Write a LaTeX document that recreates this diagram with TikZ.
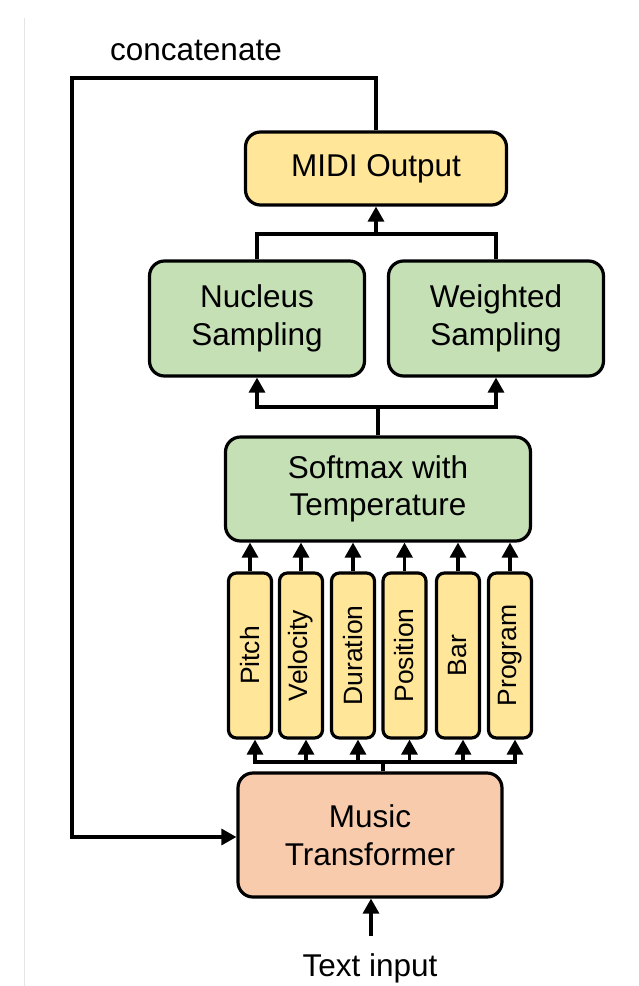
\documentclass[tikz,border=0pt]{standalone}
\usepackage{fontspec}
\setmainfont{Liberation Sans}
\usetikzlibrary{arrows.meta}
\definecolor{yel}{HTML}{FFE699}
\definecolor{grn}{HTML}{C5E0B4}
\definecolor{org}{HTML}{F8CBAD}
\tikzset{
  bigbox/.style={draw=black, line width=3.2pt, rounded corners=15pt, inner sep=0pt, align=center,
    font=\fontsize{31.5}{37.5}\selectfont},
  smallbox/.style={draw=black, line width=3.2pt, rounded corners=8pt, inner sep=0pt, fill=yel,
    minimum width=43pt, minimum height=165pt, font=\fontsize{26.5}{30}\selectfont},
  conn/.style={line width=3.2pt},
  arr/.style={line width=3.2pt, -{Triangle[width=16pt,length=15pt]}},
  lbl/.style={inner sep=0pt, font=\fontsize{31.5}{37}\selectfont}
}
\begin{document}
\begin{tikzpicture}[x=1pt,y=-1pt]
\useasboundingbox (0,0) rectangle (638,986);
\fill[white] (0,0) rectangle (638,986);
\draw[black!10, line width=1pt] (24,18) -- (24,986);

% nodes
\node[bigbox, fill=yel, minimum width=261pt, minimum height=73pt] (midi) at (376,168.5) {MIDI Output};
\node[bigbox, fill=grn, minimum width=215pt, minimum height=115pt] (nuc) at (257,318.5) {Nucleus\\Sampling};
\node[bigbox, fill=grn, minimum width=215pt, minimum height=115pt] (wei) at (496,318.5) {Weighted\\Sampling};
\node[bigbox, fill=grn, minimum width=305pt, minimum height=104pt] (soft) at (378,489) {Softmax with\\Temperature};
\node[smallbox] (p1) at (250,655.5) {\rotatebox{90}{Pitch}};
\node[smallbox] (p2) at (301,655.5) {\rotatebox{90}{Velocity}};
\node[smallbox] (p3) at (353,655.5) {\rotatebox{90}{Duration}};
\node[smallbox] (p4) at (404.5,655.5) {\rotatebox{90}{Position}};
\node[smallbox] (p5) at (458,655.5) {\rotatebox{90}{Bar}};
\node[smallbox] (p6) at (510,655.5) {\rotatebox{90}{Program}};
\node[bigbox, fill=org, minimum width=264pt, minimum height=124pt] (mt) at (370,835) {Music\\Transformer};
\node[lbl] (ti) at (370,968) {Text input};
\node[lbl] (cat) at (196,50) {concatenate};

% coordinates
\coordinate (lt) at (72,78);
\coordinate (lb) at (72,837);
\coordinate (j1) at (376,234);
\coordinate (j2) at (378,407);
\coordinate (j3) at (383,762);
\coordinate (tin) at (371,936);

% loop
\draw[arr] (midi.north) |- (lt) -- (lb) -- (mt.west |- lb);
% sampling to midi
\draw[conn] (nuc.north) |- (j1) -| (wei.north);
\draw[arr] (j1) -- (j1 |- midi.south);
% softmax to sampling
\draw[conn] (soft.north) -- (j2);
\draw[arr] (j2) -| (nuc.south);
\draw[arr] (j2) -| (wei.south);
% small boxes to softmax
\foreach \p in {p1,p2,p3,p4,p5,p6}{
  \draw[arr] (\p.north) -- (\p.north |- soft.south);
}
% transformer to small boxes
\draw[conn] (mt.north -| j3) -- (j3);
\foreach \p in {p1,p2,p3,p4,p5,p6}{
  \draw[arr] (j3) -| ([xshift=5pt]\p.south);
}
% text input
\draw[arr] (tin) -- (tin |- mt.south);
\end{tikzpicture}
\end{document}
